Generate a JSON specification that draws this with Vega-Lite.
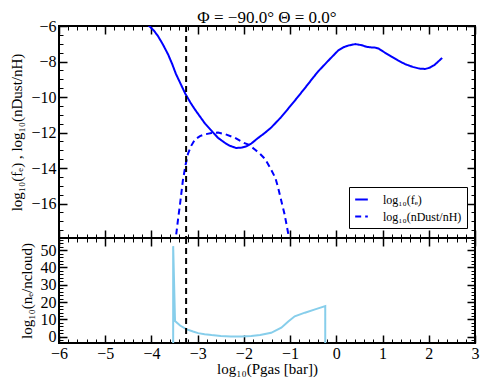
{
  "$schema": "https://vega.github.io/schema/vega-lite/v6.json",
  "padding": {"left": 8, "top": 8, "right": 10, "bottom": 5},
  "spacing": 0,
  "bounds": "flush",
  "background": "white",
  "config": {
    "view": {"stroke": "black", "strokeWidth": 2},
    "font": "Liberation Serif",
    "axis": {
      "domain": false, "grid": false,
      "labelFont": "Liberation Serif", "labelFontSize": 16, "labelColor": "black",
      "titleFont": "Liberation Serif", "titleFontSize": 15, "titleFontWeight": "normal", "titleColor": "black",
      "tickColor": "black", "labelFlush": false, "labelOverlap": false, "labelBound": false, "format": "d"
    }
  },
  "datasets": {
    "top": [
      {"series": "log₁₀(fₑ)", "i": 0, "x": -4.2, "y": -5.4},
      {"series": "log₁₀(fₑ)", "i": 1, "x": -4.05, "y": -6.0},
      {"series": "log₁₀(fₑ)", "i": 2, "x": -3.95, "y": -6.25},
      {"series": "log₁₀(fₑ)", "i": 3, "x": -3.86, "y": -6.56},
      {"series": "log₁₀(fₑ)", "i": 4, "x": -3.75, "y": -7.05},
      {"series": "log₁₀(fₑ)", "i": 5, "x": -3.64, "y": -7.6},
      {"series": "log₁₀(fₑ)", "i": 6, "x": -3.55, "y": -8.15},
      {"series": "log₁₀(fₑ)", "i": 7, "x": -3.47, "y": -8.7},
      {"series": "log₁₀(fₑ)", "i": 8, "x": -3.37, "y": -9.25},
      {"series": "log₁₀(fₑ)", "i": 9, "x": -3.27, "y": -9.8},
      {"series": "log₁₀(fₑ)", "i": 10, "x": -3.16, "y": -10.3},
      {"series": "log₁₀(fₑ)", "i": 11, "x": -3.06, "y": -10.7},
      {"series": "log₁₀(fₑ)", "i": 12, "x": -2.95, "y": -11.1},
      {"series": "log₁₀(fₑ)", "i": 13, "x": -2.84, "y": -11.5},
      {"series": "log₁₀(fₑ)", "i": 14, "x": -2.7, "y": -11.9},
      {"series": "log₁₀(fₑ)", "i": 15, "x": -2.56, "y": -12.3},
      {"series": "log₁₀(fₑ)", "i": 16, "x": -2.4, "y": -12.6},
      {"series": "log₁₀(fₑ)", "i": 17, "x": -2.3, "y": -12.75},
      {"series": "log₁₀(fₑ)", "i": 18, "x": -2.17, "y": -12.87},
      {"series": "log₁₀(fₑ)", "i": 19, "x": -2.05, "y": -12.85},
      {"series": "log₁₀(fₑ)", "i": 20, "x": -1.95, "y": -12.78},
      {"series": "log₁₀(fₑ)", "i": 21, "x": -1.84, "y": -12.62},
      {"series": "log₁₀(fₑ)", "i": 22, "x": -1.69, "y": -12.3},
      {"series": "log₁₀(fₑ)", "i": 23, "x": -1.55, "y": -12.03},
      {"series": "log₁₀(fₑ)", "i": 24, "x": -1.41, "y": -11.72},
      {"series": "log₁₀(fₑ)", "i": 25, "x": -1.2, "y": -11.15},
      {"series": "log₁₀(fₑ)", "i": 26, "x": -1.04, "y": -10.65},
      {"series": "log₁₀(fₑ)", "i": 27, "x": -0.85, "y": -10.05},
      {"series": "log₁₀(fₑ)", "i": 28, "x": -0.68, "y": -9.5},
      {"series": "log₁₀(fₑ)", "i": 29, "x": -0.5, "y": -8.9},
      {"series": "log₁₀(fₑ)", "i": 30, "x": -0.39, "y": -8.55},
      {"series": "log₁₀(fₑ)", "i": 31, "x": -0.18, "y": -7.97},
      {"series": "log₁₀(fₑ)", "i": 32, "x": 0.04, "y": -7.38},
      {"series": "log₁₀(fₑ)", "i": 33, "x": 0.15, "y": -7.2},
      {"series": "log₁₀(fₑ)", "i": 34, "x": 0.26, "y": -7.1},
      {"series": "log₁₀(fₑ)", "i": 35, "x": 0.41, "y": -7.02},
      {"series": "log₁₀(fₑ)", "i": 36, "x": 0.55, "y": -7.08},
      {"series": "log₁₀(fₑ)", "i": 37, "x": 0.65, "y": -7.17},
      {"series": "log₁₀(fₑ)", "i": 38, "x": 0.73, "y": -7.2},
      {"series": "log₁₀(fₑ)", "i": 39, "x": 0.85, "y": -7.22},
      {"series": "log₁₀(fₑ)", "i": 40, "x": 0.92, "y": -7.28},
      {"series": "log₁₀(fₑ)", "i": 41, "x": 1.05, "y": -7.5},
      {"series": "log₁₀(fₑ)", "i": 42, "x": 1.19, "y": -7.72},
      {"series": "log₁₀(fₑ)", "i": 43, "x": 1.34, "y": -7.95},
      {"series": "log₁₀(fₑ)", "i": 44, "x": 1.49, "y": -8.15},
      {"series": "log₁₀(fₑ)", "i": 45, "x": 1.65, "y": -8.3},
      {"series": "log₁₀(fₑ)", "i": 46, "x": 1.8, "y": -8.4},
      {"series": "log₁₀(fₑ)", "i": 47, "x": 1.92, "y": -8.42},
      {"series": "log₁₀(fₑ)", "i": 48, "x": 2.02, "y": -8.35},
      {"series": "log₁₀(fₑ)", "i": 49, "x": 2.12, "y": -8.2},
      {"series": "log₁₀(fₑ)", "i": 50, "x": 2.29, "y": -7.8},
      {"series": "log₁₀(nDust/nH)", "i": 0, "x": -3.49, "y": -18.3},
      {"series": "log₁₀(nDust/nH)", "i": 1, "x": -3.43, "y": -17.0},
      {"series": "log₁₀(nDust/nH)", "i": 2, "x": -3.38, "y": -16.0},
      {"series": "log₁₀(nDust/nH)", "i": 3, "x": -3.32, "y": -14.7},
      {"series": "log₁₀(nDust/nH)", "i": 4, "x": -3.26, "y": -13.8},
      {"series": "log₁₀(nDust/nH)", "i": 5, "x": -3.21, "y": -13.2},
      {"series": "log₁₀(nDust/nH)", "i": 6, "x": -3.14, "y": -12.75},
      {"series": "log₁₀(nDust/nH)", "i": 7, "x": -3.06, "y": -12.4},
      {"series": "log₁₀(nDust/nH)", "i": 8, "x": -2.95, "y": -12.2},
      {"series": "log₁₀(nDust/nH)", "i": 9, "x": -2.84, "y": -12.1},
      {"series": "log₁₀(nDust/nH)", "i": 10, "x": -2.7, "y": -12.03},
      {"series": "log₁₀(nDust/nH)", "i": 11, "x": -2.56, "y": -12.0},
      {"series": "log₁₀(nDust/nH)", "i": 12, "x": -2.4, "y": -12.1},
      {"series": "log₁₀(nDust/nH)", "i": 13, "x": -2.19, "y": -12.3},
      {"series": "log₁₀(nDust/nH)", "i": 14, "x": -2.0, "y": -12.58},
      {"series": "log₁₀(nDust/nH)", "i": 15, "x": -1.9, "y": -12.68},
      {"series": "log₁₀(nDust/nH)", "i": 16, "x": -1.75, "y": -12.98},
      {"series": "log₁₀(nDust/nH)", "i": 17, "x": -1.65, "y": -13.2},
      {"series": "log₁₀(nDust/nH)", "i": 18, "x": -1.54, "y": -13.5},
      {"series": "log₁₀(nDust/nH)", "i": 19, "x": -1.43, "y": -14.0},
      {"series": "log₁₀(nDust/nH)", "i": 20, "x": -1.32, "y": -14.55},
      {"series": "log₁₀(nDust/nH)", "i": 21, "x": -1.26, "y": -15.1},
      {"series": "log₁₀(nDust/nH)", "i": 22, "x": -1.19, "y": -15.85},
      {"series": "log₁₀(nDust/nH)", "i": 23, "x": -1.12, "y": -16.6},
      {"series": "log₁₀(nDust/nH)", "i": 24, "x": -1.04, "y": -17.7},
      {"series": "log₁₀(nDust/nH)", "i": 25, "x": -1.01, "y": -18.3}
    ],
    "ne": [
      {"i": 0, "x": -3.53, "y": -6},
      {"i": 1, "x": -3.53, "y": 52.3},
      {"i": 2, "x": -3.49, "y": 9.1},
      {"i": 3, "x": -3.38, "y": 6.5},
      {"i": 4, "x": -3.25, "y": 4.4},
      {"i": 5, "x": -3.1, "y": 3.0},
      {"i": 6, "x": -2.99, "y": 2.1},
      {"i": 7, "x": -2.85, "y": 1.5},
      {"i": 8, "x": -2.7, "y": 1.0},
      {"i": 9, "x": -2.5, "y": 0.5},
      {"i": 10, "x": -2.28, "y": 0.1},
      {"i": 11, "x": -2.05, "y": 0.1},
      {"i": 12, "x": -1.84, "y": 0.4},
      {"i": 13, "x": -1.65, "y": 1.0},
      {"i": 14, "x": -1.41, "y": 2.3},
      {"i": 15, "x": -1.19, "y": 5.2},
      {"i": 16, "x": -1.04, "y": 8.8},
      {"i": 17, "x": -0.9, "y": 11.8},
      {"i": 18, "x": -0.68, "y": 13.9},
      {"i": 19, "x": -0.46, "y": 15.8},
      {"i": 20, "x": -0.24, "y": 17.7},
      {"i": 21, "x": -0.24, "y": -6}
    ],
    "vline": [{"x": -3.25}]
  },
  "vconcat": [
    {
      "width": 416,
      "height": 212,
      "title": {"text": "Φ = −90.0° Θ = 0.0°", "font": "Liberation Serif", "fontSize": 17, "fontWeight": "normal", "color": "black", "offset": -9, "anchor": "middle"},
      "layer": [
        {
          "data": {"name": "top"},
          "mark": {"type": "line", "color": "#0000ff", "strokeWidth": 2, "clip": true},
          "encoding": {
            "x": {"field": "x", "type": "quantitative", "scale": {"domain": [-6, 3], "nice": false, "zero": false},
              "axis": {"orient": "bottom", "labels": false, "title": null,
                "values": [-6,-5.8,-5.6,-5.4,-5.2,-5,-4.8,-4.6,-4.4,-4.2,-4,-3.8,-3.6,-3.4,-3.2,-3,-2.8,-2.6,-2.4,-2.2,-2,-1.8,-1.6,-1.4,-1.2,-1,-0.8,-0.6,-0.4,-0.2,0,0.2,0.4,0.6,0.8,1,1.2,1.4,1.6,1.8,2,2.2,2.4,2.6,2.8,3],
                "tickSize": {"condition": {"test": "datum.value % 1 === 0", "value": -8}, "value": -4},
                "tickWidth": {"condition": {"test": "datum.value % 1 === 0", "value": 1.5}, "value": 1}}},
            "y": {"field": "y", "type": "quantitative", "scale": {"domain": [-17.94, -6], "nice": false, "zero": false},
              "axis": {"orient": "left", "title": "log₁₀(fₑ) ,  log₁₀(nDust/nH)", "titlePadding": 6, "labelPadding": 11,
                "values": [-17.5,-17,-16.5,-16,-15.5,-15,-14.5,-14,-13.5,-13,-12.5,-12,-11.5,-11,-10.5,-10,-9.5,-9,-8.5,-8,-7.5,-7,-6.5,-6],
                "labelExpr": "datum.value % 2 === 0 ? datum.label : ''",
                "tickSize": {"condition": {"test": "datum.value % 2 === 0", "value": -8}, "value": -4},
                "tickWidth": {"condition": {"test": "datum.value % 2 === 0", "value": 1.5}, "value": 1}}},
            "strokeDash": {"field": "series", "type": "nominal",
              "scale": {"domain": ["log₁₀(fₑ)", "log₁₀(nDust/nH)"], "range": [[1, 0], [6, 4]]},
              "legend": {"orient": "none", "legendX": 290, "legendY": 161, "title": null,
                "strokeColor": "black", "fillColor": "white", "padding": 5, "cornerRadius": 0,
                "symbolType": "stroke", "symbolStrokeColor": "#0000ff", "symbolStrokeWidth": 2, "symbolSize": 160,
                "labelFont": "Liberation Serif", "labelFontSize": 12, "labelColor": "black", "rowPadding": 3, "labelOffset": 14}},
            "order": {"field": "i", "type": "quantitative"}
          }
        },
        {
          "data": {"name": "vline"},
          "mark": {"type": "rule", "color": "black", "strokeWidth": 2, "strokeDash": [6, 4]},
          "encoding": {
            "x": {"field": "x", "type": "quantitative", "scale": {"domain": [-6, 3], "nice": false, "zero": false},
              "axis": {"orient": "top", "labels": false, "title": null,
                "values": [-6,-5.8,-5.6,-5.4,-5.2,-5,-4.8,-4.6,-4.4,-4.2,-4,-3.8,-3.6,-3.4,-3.2,-3,-2.8,-2.6,-2.4,-2.2,-2,-1.8,-1.6,-1.4,-1.2,-1,-0.8,-0.6,-0.4,-0.2,0,0.2,0.4,0.6,0.8,1,1.2,1.4,1.6,1.8,2,2.2,2.4,2.6,2.8,3],
                "tickSize": {"condition": {"test": "datum.value % 1 === 0", "value": -8}, "value": -4},
                "tickWidth": {"condition": {"test": "datum.value % 1 === 0", "value": 1.5}, "value": 1}}}
          }
        },
        {
          "data": {"name": "top"},
          "mark": {"type": "point", "opacity": 0, "clip": true},
          "encoding": {
            "x": {"field": "x", "type": "quantitative", "scale": {"domain": [-6, 3], "nice": false, "zero": false}, "axis": null},
            "y": {"field": "y", "type": "quantitative", "scale": {"domain": [-17.94, -6], "nice": false, "zero": false},
              "axis": {"orient": "right", "labels": false, "title": null,
                "values": [-17.5,-17,-16.5,-16,-15.5,-15,-14.5,-14,-13.5,-13,-12.5,-12,-11.5,-11,-10.5,-10,-9.5,-9,-8.5,-8,-7.5,-7,-6.5,-6],
                "tickSize": {"condition": {"test": "datum.value % 2 === 0", "value": -8}, "value": -4},
                "tickWidth": {"condition": {"test": "datum.value % 2 === 0", "value": 1.5}, "value": 1}}}
          }
        }
      ],
      "resolve": {"axis": {"x": "independent", "y": "independent"}}
    },
    {
      "width": 416,
      "height": 105,
      "layer": [
        {
          "data": {"name": "ne"},
          "mark": {"type": "line", "color": "#87ceeb", "strokeWidth": 2, "clip": true},
          "encoding": {
            "x": {"field": "x", "type": "quantitative", "scale": {"domain": [-6, 3], "nice": false, "zero": false},
              "axis": {"orient": "bottom", "title": "log₁₀(Pgas [bar])", "labelPadding": 10, "titlePadding": -4,
                "values": [-6,-5.8,-5.6,-5.4,-5.2,-5,-4.8,-4.6,-4.4,-4.2,-4,-3.8,-3.6,-3.4,-3.2,-3,-2.8,-2.6,-2.4,-2.2,-2,-1.8,-1.6,-1.4,-1.2,-1,-0.8,-0.6,-0.4,-0.2,0,0.2,0.4,0.6,0.8,1,1.2,1.4,1.6,1.8,2,2.2,2.4,2.6,2.8,3],
                "labelExpr": "datum.value % 1 === 0 ? datum.label : ''",
                "tickSize": {"condition": {"test": "datum.value % 1 === 0", "value": -8}, "value": -4},
                "tickWidth": {"condition": {"test": "datum.value % 1 === 0", "value": 1.5}, "value": 1}}},
            "y": {"field": "y", "type": "quantitative", "scale": {"domain": [-3.6, 57], "nice": false, "zero": false},
              "axis": {"orient": "left", "title": "log₁₀(nₑ/ncloud)", "titlePadding": 6, "labelPadding": 11,
                "values": [-2,0,2,4,6,8,10,12,14,16,18,20,22,24,26,28,30,32,34,36,38,40,42,44,46,48,50,52,54,56],
                "labelExpr": "datum.value % 10 === 0 ? datum.label : ''",
                "tickSize": {"condition": {"test": "datum.value % 10 === 0", "value": -8}, "value": -4},
                "tickWidth": {"condition": {"test": "datum.value % 10 === 0", "value": 1.5}, "value": 1}}},
            "order": {"field": "i", "type": "quantitative"}
          }
        },
        {
          "data": {"name": "vline"},
          "mark": {"type": "rule", "color": "black", "strokeWidth": 2, "strokeDash": [6, 4]},
          "encoding": {
            "x": {"field": "x", "type": "quantitative", "scale": {"domain": [-6, 3], "nice": false, "zero": false},
              "axis": {"orient": "top", "labels": false, "title": null,
                "values": [-6,-5.8,-5.6,-5.4,-5.2,-5,-4.8,-4.6,-4.4,-4.2,-4,-3.8,-3.6,-3.4,-3.2,-3,-2.8,-2.6,-2.4,-2.2,-2,-1.8,-1.6,-1.4,-1.2,-1,-0.8,-0.6,-0.4,-0.2,0,0.2,0.4,0.6,0.8,1,1.2,1.4,1.6,1.8,2,2.2,2.4,2.6,2.8,3],
                "tickSize": {"condition": {"test": "datum.value % 1 === 0", "value": -8}, "value": -4},
                "tickWidth": {"condition": {"test": "datum.value % 1 === 0", "value": 1.5}, "value": 1}}}
          }
        },
        {
          "data": {"name": "ne"},
          "mark": {"type": "point", "opacity": 0, "clip": true},
          "encoding": {
            "x": {"field": "x", "type": "quantitative", "scale": {"domain": [-6, 3], "nice": false, "zero": false}, "axis": null},
            "y": {"field": "y", "type": "quantitative", "scale": {"domain": [-3.6, 57], "nice": false, "zero": false},
              "axis": {"orient": "right", "labels": false, "title": null,
                "values": [-2,0,2,4,6,8,10,12,14,16,18,20,22,24,26,28,30,32,34,36,38,40,42,44,46,48,50,52,54,56],
                "tickSize": {"condition": {"test": "datum.value % 10 === 0", "value": -8}, "value": -4},
                "tickWidth": {"condition": {"test": "datum.value % 10 === 0", "value": 1.5}, "value": 1}}}
          }
        }
      ],
      "resolve": {"axis": {"x": "independent", "y": "independent"}}
    }
  ]
}
